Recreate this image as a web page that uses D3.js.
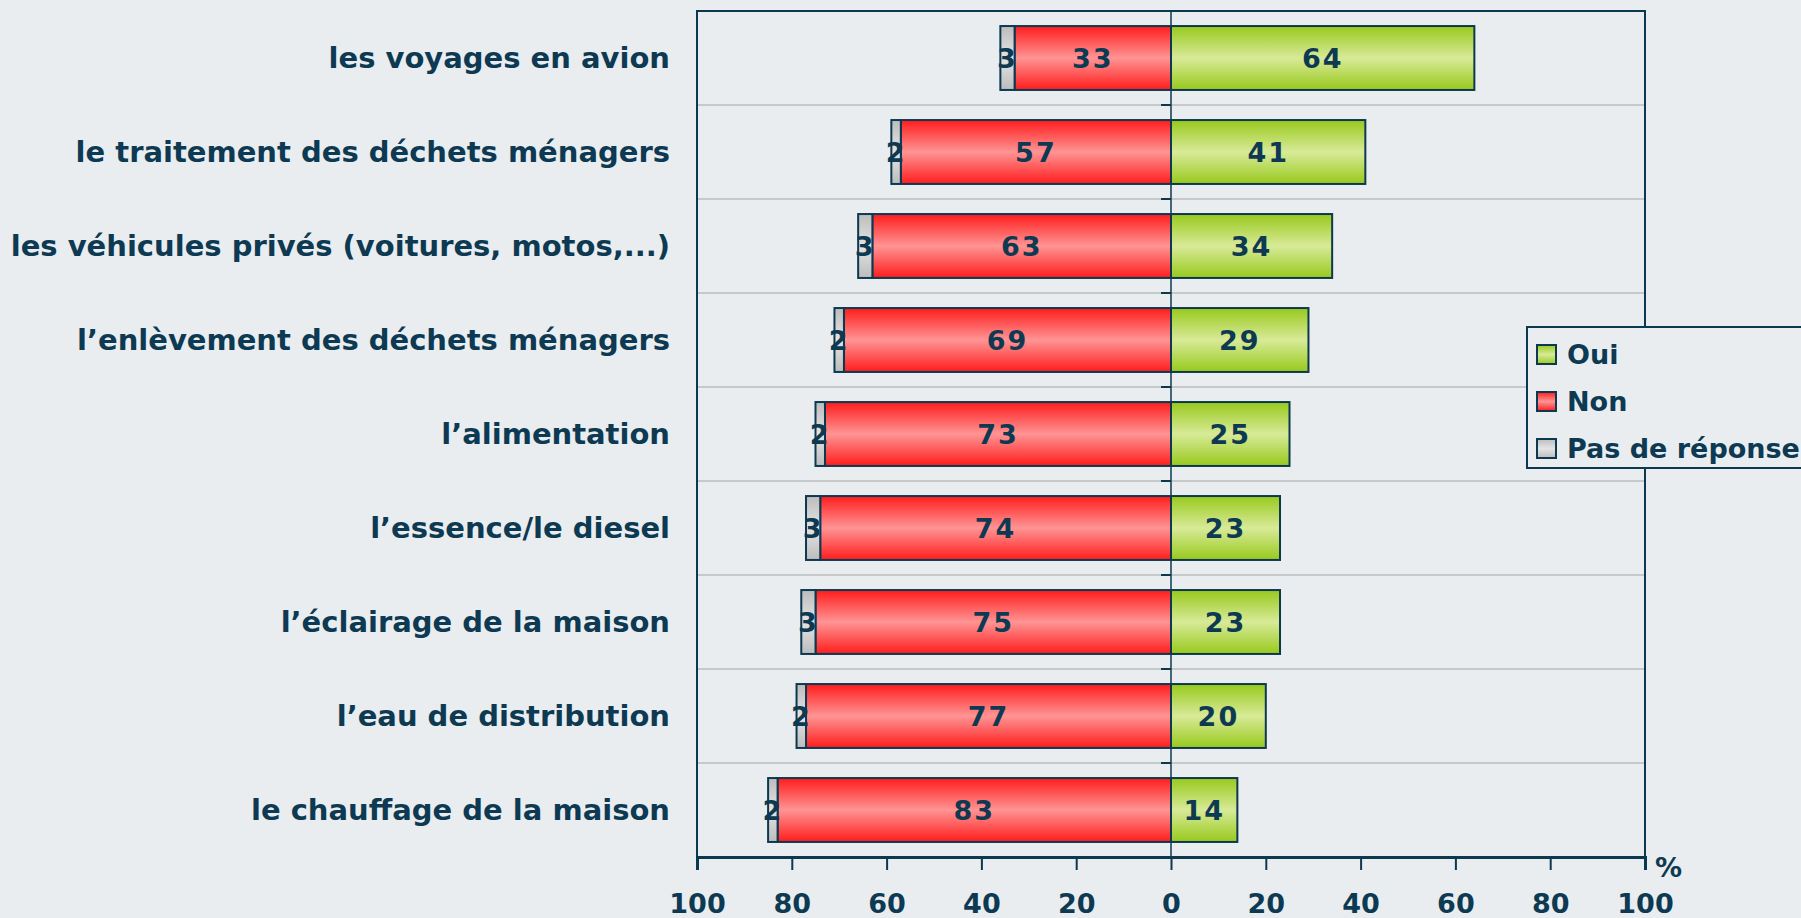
<!DOCTYPE html>
<html>
<head>
<meta charset="utf-8">
<script src="https://cdn.jsdelivr.net/npm/d3@7"></script>
<style>
  html, body { margin: 0; padding: 0; background: #e9edef; }
  svg { display: block; }
  text { font-family: "DejaVu Sans", Verdana, sans-serif; font-weight: bold; fill: #0d3a52; }
</style>
</head>
<body>
<div id="chart"></div>
<script>
const categories = [
    "les voyages en avion",
    "le traitement des déchets ménagers",
    "les véhicules privés (voitures, motos,...)",
    "l’enlèvement des déchets ménagers",
    "l’alimentation",
    "l’essence/le diesel",
    "l’éclairage de la maison",
    "l’eau de distribution",
    "le chauffage de la maison"
];
const oui = [64, 41, 34, 29, 25, 23, 23, 20, 14];
const non = [33, 57, 63, 69, 73, 74, 75, 77, 83];
const sansReponse = [3, 2, 3, 2, 2, 3, 3, 2, 2];
const tickValues = [-100, -80, -60, -40, -20, 0, 20, 40, 60, 80, 100];
const legendLabels = ["Oui", "Non", "Pas de réponse"];

const width = 1801;
const height = 918;
const navy = "#0c3850";
const plot = { left: 697, right: 1645, top: 11, bottom: 857 };

const svg = d3.select("#chart")
    .append("svg")
        .attr("width", width)
        .attr("height", height);

svg.append("rect")
    .attr("width", width)
    .attr("height", height)
    .attr("fill", "#e9edef");

// gradients, bright edges and pale middle like the original
const defs = svg.append("defs");
const gradients = {
    oui: ["#98c91c", "#d8ea98", "#98c91c"],
    non: ["#ff1c1c", "#ff9494", "#ff1c1c"],
    nr: ["#bcbcbc", "#e4e4e4", "#bcbcbc"]
};
Object.entries(gradients).forEach(([id, stops]) => {
    const g = defs.append("linearGradient")
        .attr("id", "grad-" + id)
        .attr("x1", 0).attr("y1", 0).attr("x2", 0).attr("y2", 1);
    g.append("stop").attr("offset", "0%").attr("stop-color", stops[0]);
    g.append("stop").attr("offset", "50%").attr("stop-color", stops[1]);
    g.append("stop").attr("offset", "100%").attr("stop-color", stops[2]);
});

const x = d3.scaleLinear()
    .domain([-100, 100])
    .range([plot.left, plot.right]);

const y = d3.scaleBand()
    .domain(categories)
    .range([plot.top, plot.bottom])
    .paddingInner(0.32)
    .paddingOuter(0.16);

const step = y.step();
const boundaries = d3.range(1, categories.length).map(i => plot.top + i * step);

// horizontal grid lines between categories
svg.append("g")
    .selectAll("line")
    .data(boundaries)
    .enter()
        .append("line")
        .attr("x1", plot.left)
        .attr("x2", plot.right)
        .attr("y1", d => d)
        .attr("y2", d => d)
        .attr("stroke", "#c6c8c9")
        .attr("stroke-width", 2);

// plot frame
svg.append("rect")
    .attr("x", plot.left)
    .attr("y", plot.top)
    .attr("width", plot.right - plot.left)
    .attr("height", plot.bottom - plot.top)
    .attr("fill", "none")
    .attr("stroke", navy)
    .attr("stroke-width", 2);

const rows = categories.map((c, i) => ({
    name: c,
    segments: [
        { key: "oui", value: oui[i], x0: 0, x1: oui[i] },
        { key: "non", value: non[i], x0: -non[i], x1: 0 },
        { key: "nr", value: sansReponse[i], x0: -non[i] - sansReponse[i], x1: -non[i] }
    ]
}));

const row = svg.append("g")
    .selectAll("g")
    .data(rows)
    .enter()
        .append("g")
        .attr("transform", d => `translate(0,${y(d.name)})`);

row.selectAll("rect")
    .data(d => d.segments)
    .enter()
        .append("rect")
        .attr("x", d => x(d.x0))
        .attr("width", d => x(d.x1) - x(d.x0))
        .attr("height", y.bandwidth())
        .attr("fill", d => `url(#grad-${d.key})`)
        .attr("stroke", navy)
        .attr("stroke-width", 2);

row.selectAll("text")
    .data(d => d.segments)
    .enter()
        .append("text")
        .attr("x", d => (x(d.x0) + x(d.x1)) / 2)
        .attr("y", y.bandwidth() / 2)
        .attr("dy", "0.36em")
        .attr("text-anchor", "middle")
        .attr("font-size", 27)
        .attr("letter-spacing", 2)
        .text(d => d.value);

// zero line with category ticks
svg.append("line")
    .attr("x1", x(0)).attr("x2", x(0))
    .attr("y1", plot.top).attr("y2", plot.bottom)
    .attr("stroke", navy)
    .attr("stroke-width", 1.5);

svg.append("g")
    .selectAll("line")
    .data([plot.top].concat(boundaries))
    .enter()
        .append("line")
        .attr("x1", x(0) - 10)
        .attr("x2", x(0))
        .attr("y1", d => d)
        .attr("y2", d => d)
        .attr("stroke", navy)
        .attr("stroke-width", 2);

// category labels
svg.append("g")
    .selectAll("text")
    .data(categories)
    .enter()
        .append("text")
        .attr("x", 670)
        .attr("y", d => y(d) + y.bandwidth() / 2)
        .attr("dy", "0.36em")
        .attr("text-anchor", "end")
        .attr("font-size", 29)
        .text(d => d);

// value axis
const xAxis = d3.axisBottom(x)
    .tickValues(tickValues)
    .tickFormat(d => Math.abs(d))
    .tickSize(13)
    .tickPadding(24);

const axisG = svg.append("g")
    .attr("transform", `translate(0,${plot.bottom})`)
    .call(xAxis);

axisG.select(".domain")
    .attr("stroke", navy)
    .attr("stroke-width", 3);
axisG.selectAll(".tick line")
    .attr("stroke", navy)
    .attr("stroke-width", 2);
axisG.selectAll(".tick text")
    .attr("font-family", null)
    .attr("font-size", 27)
    .attr("fill", navy);

svg.append("text")
    .attr("x", plot.right + 10)
    .attr("y", 877)
    .attr("font-size", 27)
    .text("%");

// legend
const legend = svg.append("g")
    .attr("transform", "translate(1527,327)");

legend.append("rect")
    .attr("width", 300)
    .attr("height", 141)
    .attr("fill", "#e9edef")
    .attr("stroke", navy)
    .attr("stroke-width", 2);

const legendKeys = ["oui", "non", "nr"];
const item = legend.selectAll("g")
    .data(legendLabels)
    .enter()
        .append("g")
        .attr("transform", (d, i) => `translate(10,${27 + i * 47})`);

item.append("rect")
    .attr("y", -9)
    .attr("width", 19)
    .attr("height", 19)
    .attr("fill", (d, i) => `url(#grad-${legendKeys[i]})`)
    .attr("stroke", navy)
    .attr("stroke-width", 2);

item.append("text")
    .attr("x", 30)
    .attr("dy", "0.36em")
    .attr("font-size", 27)
    .text(d => d);
</script>
</body>
</html>
